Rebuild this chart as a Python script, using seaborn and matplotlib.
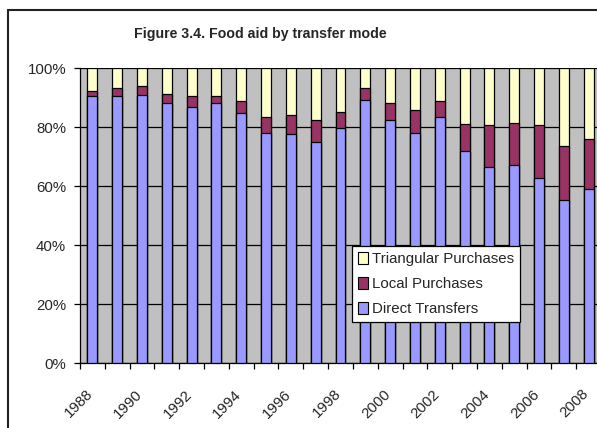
import numpy as np
import pandas as pd
import seaborn as sns
import matplotlib.pyplot as plt
import matplotlib.transforms as mtransforms
from matplotlib.lines import Line2D
from matplotlib.patches import Patch

years = list(range(1988, 2009))
direct = [90.7, 90.7, 91.1, 88.1, 86.8, 88.1, 85.0, 78.1, 77.7, 74.9, 79.7,
          89.3, 82.5, 78.2, 83.6, 72.1, 66.7, 67.2, 62.7, 55.4, 59.1]
local = [1.6, 2.5, 2.9, 3.1, 3.7, 2.6, 3.9, 5.3, 6.5, 7.6, 5.6,
         3.9, 5.7, 7.6, 5.2, 9.0, 14.0, 14.2, 18.0, 18.2, 16.8]
triangular = [7.7, 6.8, 6.0, 8.8, 9.5, 9.3, 11.1, 16.6, 15.8, 17.5, 14.7,
              6.8, 11.8, 14.2, 11.2, 18.9, 19.3, 18.6, 19.3, 26.4, 24.1]

df = pd.DataFrame({'Year': [str(y) for y in years],
                   'Direct': direct, 'Local': local, 'Triangular': triangular})
df['top_local'] = df['Direct'] + df['Local']
df['top_tri'] = df['top_local'] + df['Triangular']

sns.set_style('white')
plt.rcParams['font.family'] = ['Liberation Sans', 'DejaVu Sans']

fig = plt.figure(figsize=(5.97, 4.28), dpi=100)
ax = fig.add_axes([80 / 597, (428 - 363.3) / 428, 521 / 597, 295 / 428])
ax.set_facecolor('#C0C0C0')

c_dir, c_loc, c_tri = '#9999FF', '#993366', '#FFFFCC'
bar_kw = dict(width=0.4, edgecolor='black', linewidth=0.9, zorder=3)
sns.barplot(data=df, x='Year', y='top_tri', color=c_tri, saturation=1, ax=ax, **bar_kw)
sns.barplot(data=df, x='Year', y='top_local', color=c_loc, saturation=1, ax=ax, **bar_kw)
sns.barplot(data=df, x='Year', y='Direct', color=c_dir, saturation=1, ax=ax, **bar_kw)

ax.set_xlim(-0.5, len(years) - 0.5)
ax.set_ylim(0, 100)
ax.set_xlabel('')
ax.set_ylabel('')

ax.set_yticks([0, 20, 40, 60, 80, 100])
ax.set_yticklabels([f'{v}%' for v in [0, 20, 40, 60, 80, 100]], fontsize=10.8)
ax.yaxis.grid(True, color='black', linewidth=0.9, zorder=1)
ax.set_axisbelow(True)
ax.tick_params(axis='y', direction='out', length=4, width=0.9, color='black', pad=6, left=True)

ax.set_xticks(range(0, len(years), 2))
ax.set_xticklabels([str(y) for y in years[::2]], fontsize=10.8, rotation=45,
                   ha='right', va='top', rotation_mode='anchor')
ax.set_xticks(np.arange(-0.5, len(years), 1), minor=True)
ax.tick_params(axis='x', which='major', length=0, pad=17)
ax.tick_params(axis='x', which='minor', direction='out', length=4, width=0.9,
               color='black', bottom=True)
shift = mtransforms.ScaledTranslation(-7 / 100, 0, fig.dpi_scale_trans)
for lab in ax.get_xticklabels():
    lab.set_transform(lab.get_transform() + shift)

for s in ['top', 'right']:
    ax.spines[s].set_visible(False)
for s in ['left', 'bottom']:
    ax.spines[s].set_color('black')
    ax.spines[s].set_linewidth(0.9)

handles = [Patch(facecolor=c_tri, edgecolor='black', linewidth=0.8, label='Triangular Purchases'),
           Patch(facecolor=c_loc, edgecolor='black', linewidth=0.8, label='Local Purchases'),
           Patch(facecolor=c_dir, edgecolor='black', linewidth=0.8, label='Direct Transfers')]
leg = ax.legend(handles=handles, loc='lower left', bbox_to_anchor=(352 / 597, (428 - 322) / 428),
                bbox_transform=fig.transFigure, fontsize=10.8, frameon=True, fancybox=False,
                shadow=False, handlelength=0.65, handleheight=0.85, handletextpad=0.3,
                labelspacing=0.72, borderpad=0.4, borderaxespad=0)
leg.get_frame().set_edgecolor('black')
leg.get_frame().set_linewidth(0.9)
leg.get_frame().set_facecolor('white')
leg.get_frame().set_alpha(1)
leg.set_zorder(5)

fig.text(260 / 597, 1 - 34 / 428, 'Figure 3.4. Food aid by transfer mode',
         ha='center', va='center', fontsize=10.2, fontweight='bold')

# outer chart frame (cut off at right and bottom)
fig.add_artist(Line2D([8 / 597, 8 / 597], [1 - 10 / 428, -0.1], transform=fig.transFigure,
                      color='#222222', linewidth=1.5))
fig.add_artist(Line2D([8 / 597, 1.1], [1 - 10 / 428, 1 - 10 / 428], transform=fig.transFigure,
                      color='#222222', linewidth=1.5))

plt.savefig('out.png', dpi=100)
